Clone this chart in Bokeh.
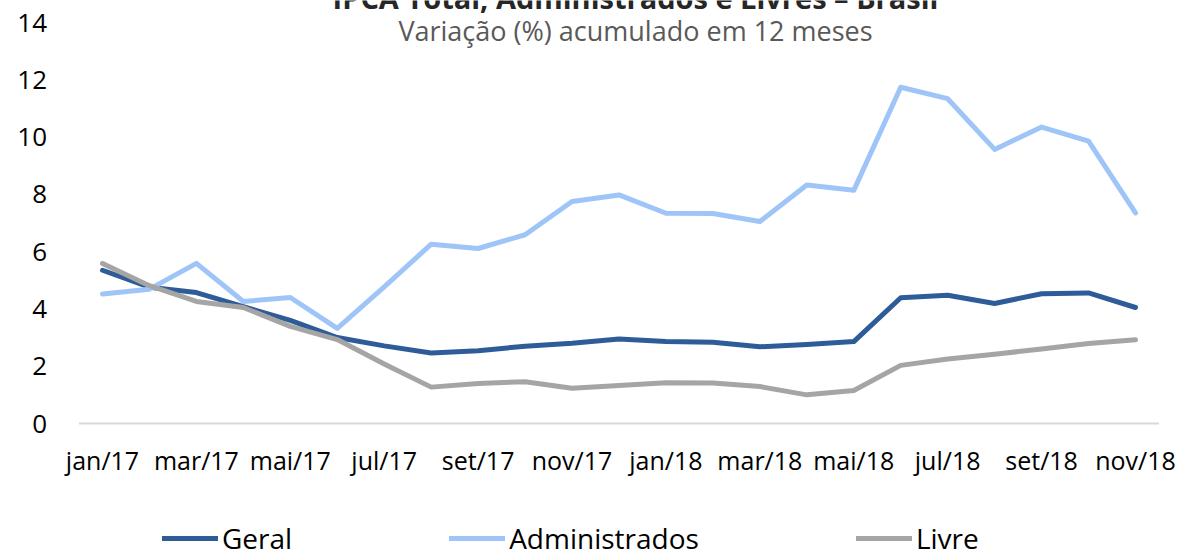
from bokeh.plotting import figure
from bokeh.models import (Range1d, FixedTicker, Label, Legend, LegendItem)
from bokeh.embed import file_html
from bokeh.resources import INLINE

# ---- data ----
months = ["jan/17", "fev/17", "mar/17", "abr/17", "mai/17", "jun/17", "jul/17",
          "ago/17", "set/17", "out/17", "nov/17", "dez/17", "jan/18", "fev/18",
          "mar/18", "abr/18", "mai/18", "jun/18", "jul/18", "ago/18", "set/18",
          "out/18", "nov/18"]
geral = [5.35, 4.76, 4.57, 4.08, 3.60, 3.00, 2.71, 2.46, 2.54, 2.70, 2.80, 2.95,
         2.86, 2.84, 2.68, 2.76, 2.86, 4.39, 4.48, 4.19, 4.53, 4.56, 4.05]
administrados = [4.52, 4.69, 5.59, 4.26, 4.40, 3.32, 4.77, 6.26, 6.11, 6.59, 7.75, 7.98,
                 7.34, 7.33, 7.05, 8.33, 8.14, 11.74, 11.34, 9.57, 10.35, 9.86, 7.35]
livre = [5.59, 4.81, 4.26, 4.05, 3.39, 2.93, 2.08, 1.27, 1.40, 1.46, 1.23, 1.33,
         1.42, 1.41, 1.29, 1.00, 1.15, 2.03, 2.25, 2.42, 2.60, 2.79, 2.92]
y_ticks = [0, 2, 4, 6, 8, 10, 12, 14]
title_text = "IPCA Total, Administrados e Livres \u2013 Brasil"
subtitle_text = "Varia\u00e7\u00e3o (%) acumulado em 12 meses"

FONT = "Open Sans"
W, H = 1179, 557
n = len(months)
x = list(range(n))

# the frame fills the whole canvas; ranges chosen so that the plot area
# (first month at 102px, last at 1135px, y=0 at 423px, y=14 at 22px) matches
px_x = (1135 - 102) / (n - 1)
px_y = (423 - 22) / 14.0
x_range = Range1d(-102 / px_x, (n - 1) + (W - 1135) / px_x)
y_range = Range1d(-(H - 423) / px_y, 14 + 22 / px_y)

p = figure(width=W, height=H, output_backend="svg", toolbar_location=None,
           x_range=x_range, y_range=y_range,
           min_border_left=0, min_border_right=0, min_border_top=0,
           min_border_bottom=0)
p.outline_line_color = None
p.xgrid.visible = False
p.ygrid.visible = False
p.background_fill_color = "white"
p.border_fill_color = "white"

# baseline of the category axis
p.segment(x0=[-0.5], y0=[0], x1=[n - 0.5], y1=[0], line_color="#d9d9d9", line_width=2)

# x axis, sitting at y = 0
xa = p.xaxis[0]
xa.fixed_location = 0
xa.ticker = FixedTicker(ticks=x[::2])
xa.major_label_overrides = {i: months[i] for i in x[::2]}
xa.axis_line_color = None
xa.major_tick_line_color = None
xa.minor_tick_line_color = None
xa.major_tick_out = 0
xa.major_tick_in = 0
xa.major_label_standoff = 19
xa.major_label_text_font = FONT
xa.major_label_text_font_size = "25px"
xa.major_label_text_color = "#000000"

# y axis, sitting at the left edge of the category area
ya = p.yaxis[0]
ya.fixed_location = -0.5
ya.ticker = FixedTicker(ticks=y_ticks)
ya.axis_line_color = None
ya.major_tick_line_color = None
ya.minor_tick_line_color = None
ya.major_tick_out = 0
ya.major_tick_in = 0
ya.major_label_standoff = 32
ya.major_label_text_font = FONT
ya.major_label_text_font_size = "26px"
ya.major_label_text_color = "#000000"

colors = {"Geral": "#2e5c99", "Administrados": "#9fc5f8", "Livre": "#a5a5a5"}
r_geral = p.line(x, geral, line_color=colors["Geral"], line_width=5,
                 line_cap="round", line_join="round")
r_admin = p.line(x, administrados, line_color=colors["Administrados"], line_width=5,
                 line_cap="round", line_join="round")
r_livre = p.line(x, livre, line_color=colors["Livre"], line_width=5,
                 line_cap="round", line_join="round")

legend = Legend(items=[LegendItem(label="Geral", renderers=[r_geral]),
                       LegendItem(label="Administrados", renderers=[r_admin]),
                       LegendItem(label="Livre", renderers=[r_livre])],
                location=(162, 0), orientation="horizontal",
                padding=0, margin=0, spacing=157, label_standoff=4,
                glyph_width=56, glyph_height=30, label_height=30,
                border_line_color=None, background_fill_alpha=0,
                label_text_font=FONT, label_text_font_size="28px",
                label_text_color="#000000")
p.add_layout(legend, "center")

# title (cut by the top edge, as in the original) + subtitle
p.add_layout(Label(x=635, y=560, x_units="screen", y_units="screen", text=title_text,
                   text_align="center", text_baseline="alphabetic",
                   text_font=FONT, text_font_size="29px", text_font_style="bold",
                   text_color="#262626"))
p.add_layout(Label(x=635, y=527, x_units="screen", y_units="screen", text=subtitle_text,
                   text_align="center", text_baseline="alphabetic",
                   text_font=FONT, text_font_size="27px", text_color="#595959"))

open("out.html", "w").write(file_html(p, INLINE))
